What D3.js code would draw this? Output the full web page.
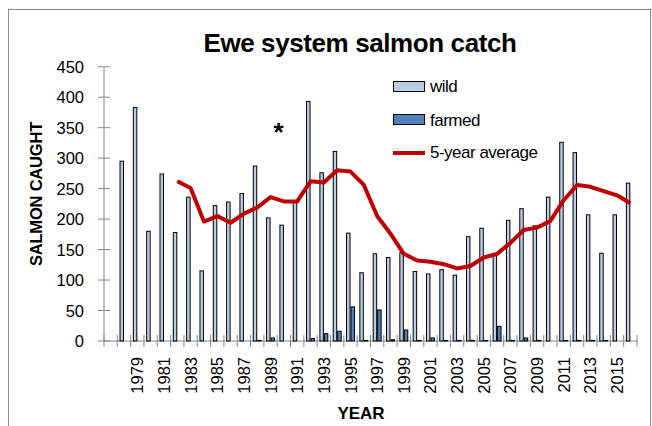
<!DOCTYPE html>
<html>
<head>
<meta charset="utf-8">
<script src="https://cdn.jsdelivr.net/npm/d3@7"></script>
<style>
  html, body { margin: 0; padding: 0; background: #fff; }
  svg { display: block; }
  text { font-family: "Liberation Sans", Arial, sans-serif; }
</style>
</head>
<body>
<svg id="chart" width="652" height="426"></svg>
<script>
// ---- data ----
const years = d3.range(1977, 2017).map(String);
const wild = [null, 295, 383, 180, 274, 178, 236, 115, 222, 228,
              242, 287, 202, 190, 230, 393, 276, 311, 177, 112,
              143, 137, 145, 114, 110, 117, 108, 171, 185, 140,
              198, 217, 189, 236, 326, 309, 207, 144, 207, 259];
const farmed = [null, 0, 0, 0, 0, 0, 0, 0, 0, 0,
                0, 1, 5, 0, 0, 4, 12, 16, 56, 1,
                51, 2, 18, 1, 5, 1, 1, 1, 1, 24,
                1, 5, 1, 0, 1, 1, 1, 1, 0, 0];
const avg5 = [null, null, null, null, null, 262, 251, 196, 205, 194,
              209, 219, 236, 229, 229, 262, 260, 280, 278, 256,
              205, 176, 143, 132, 130, 126, 119, 123, 137, 143,
              161, 182, 186, 197, 231, 256, 253, 246, 239, 226];
const yTicks = [0, 50, 100, 150, 200, 250, 300, 350, 400, 450];
const xLabelYears = years.filter(y => +y % 2 === 1 && +y >= 1979);
const seriesNames = ["wild", "farmed", "5-year average"];
const colors = { wild: "#b9cde5", farmed: "#4f81bd", avg: "#c00000" };

// ---- layout ----
const svg = d3.select("#chart");
const plot = { left: 104, right: 637, top: 66.7, bottom: 341 };
const axisColor = "#868686";

// outer frame
svg.append("rect").attr("x", 8.5).attr("y", 9.5).attr("width", 642).attr("height", 430)
  .attr("fill", "none").attr("stroke", "#8c8c8c").attr("stroke-width", 1);

const x = d3.scaleBand().domain(years).range([plot.left, plot.right])
  .paddingInner(0.33).paddingOuter(0.165);
const xSub = d3.scaleBand().domain(["wild", "farmed"]).range([0, x.bandwidth()]);
const y = d3.scaleLinear().domain([0, 450]).range([plot.bottom, plot.top]);
const step = x.step();

// title
svg.append("text").attr("x", 360).attr("y", 52).attr("text-anchor", "middle")
  .attr("font-size", 26).attr("font-weight", "bold").attr("letter-spacing", -0.4)
  .text("Ewe system salmon catch");

// y axis
const ya = svg.append("g");
ya.append("line").attr("x1", plot.left).attr("x2", plot.left)
  .attr("y1", y(0)).attr("y2", y(450)).attr("stroke", axisColor);
ya.selectAll(".yt").data(yTicks).join("line")
  .attr("x1", plot.left - 6).attr("x2", plot.left + 6)
  .attr("y1", d => y(d)).attr("y2", d => y(d)).attr("stroke", axisColor);
ya.selectAll(".yl").data(yTicks).join("text")
  .attr("x", 84).attr("y", d => y(d) + 6).attr("text-anchor", "end")
  .attr("font-size", 16.5).text(d => d);

// x axis
const xa = svg.append("g");
xa.append("line").attr("x1", plot.left).attr("x2", plot.right)
  .attr("y1", y(0)).attr("y2", y(0)).attr("stroke", axisColor);
const tickXs = years.map(d => x(d) - step * 0.165).concat([plot.right]);
xa.selectAll(".xt").data(tickXs).join("line")
  .attr("x1", d => d).attr("x2", d => d)
  .attr("y1", y(0) - 6).attr("y2", y(0) + 6).attr("stroke", axisColor);
xa.selectAll(".xl").data(xLabelYears).join("text")
  .attr("transform", d => `translate(${x(d) + x.bandwidth() / 2 + 6},357) rotate(-90)`)
  .attr("text-anchor", "end").attr("font-size", 16.5).text(d => d);

// axis titles
svg.append("text").attr("transform", `translate(42,194) rotate(-90)`)
  .attr("text-anchor", "middle").attr("font-size", 16.5).attr("font-weight", "bold")
  .attr("letter-spacing", -0.2).text("SALMON CAUGHT");
svg.append("text").attr("x", 361).attr("y", 419).attr("text-anchor", "middle")
  .attr("font-size", 17).attr("font-weight", "bold").text("YEAR");

// bars
const rows = years.map((yr, i) => ({ year: yr, wild: wild[i], farmed: farmed[i], avg: avg5[i] }));
const g = svg.append("g");
["wild", "farmed"].forEach(key => {
  g.selectAll(".b-" + key).data(rows.filter(r => r[key] !== null)).join("rect")
    .attr("x", r => x(r.year) + xSub(key) + 0.5)
    .attr("y", r => y(r[key]))
    .attr("width", xSub.bandwidth() - 1)
    .attr("height", r => y(0) - y(r[key]))
    .attr("fill", colors[key]).attr("stroke", "#000").attr("stroke-width", 1);
});

// 5-year average line
const line = d3.line()
  .defined(r => r.avg !== null)
  .x(r => x(r.year) + x.bandwidth() / 2)
  .y(r => y(r.avg));
svg.append("path").datum(rows).attr("d", line)
  .attr("fill", "none").attr("stroke", colors.avg).attr("stroke-width", 4)
  .attr("stroke-linejoin", "round");

// asterisk
svg.append("text").attr("x", 278.5).attr("y", 141).attr("text-anchor", "middle")
  .attr("font-size", 26).attr("font-weight", "bold").text("*");

// legend
const lg = svg.append("g");
lg.append("rect").attr("x", 393.5).attr("y", 81.5).attr("width", 31).attr("height", 10)
  .attr("fill", colors.wild).attr("stroke", "#000");
lg.append("rect").attr("x", 393.5).attr("y", 114.5).attr("width", 31).attr("height", 10)
  .attr("fill", colors.farmed).attr("stroke", "#000");
lg.append("line").attr("x1", 393).attr("x2", 425).attr("y1", 153).attr("y2", 153)
  .attr("stroke", colors.avg).attr("stroke-width", 4);
lg.selectAll(".lt").data(seriesNames).join("text")
  .attr("x", 430).attr("y", (d, i) => [92, 125.5, 158][i])
  .attr("font-size", 17).attr("letter-spacing", -0.5).text(d => d);
</script>
</body>
</html>
